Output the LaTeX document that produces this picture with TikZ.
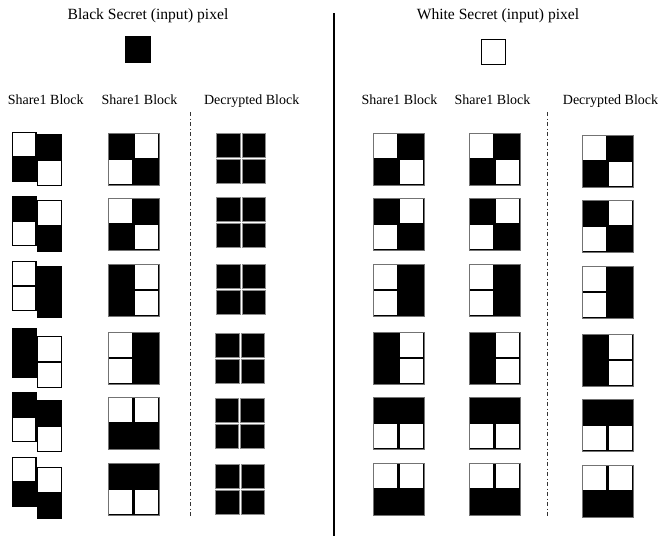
\documentclass[tikz,border=0pt]{standalone}
\usepackage{fontspec}
\setmainfont{Liberation Serif}
\begin{document}
\begin{tikzpicture}[x=1pt,y=-1pt,
  toptext/.style={font=\fontsize{15.6}{18}\selectfont, anchor=base, inner sep=0pt},
  headtext/.style={font=\fontsize{14}{17}\selectfont, anchor=base, inner sep=0pt},
  divider/.style={line width=1.3pt},
  dashdiv/.style={line width=0.9pt, black!80, dash pattern=on 4pt off 2.5pt on 1pt off 2.5pt}]
\useasboundingbox (0,0) rectangle (658,538);
% cells: x y w h
\newcommand{\cb}[4]{\fill[black] (#1,#2) rectangle ++(#3,#4);}
\newcommand{\cw}[4]{\fill[black] (#1,#2) rectangle ++(#3,#4);
  \fill[white] (#1+1.4,#2+1.4) rectangle ++(#3-2.8,#4-2.8);}
% 2x2 block: x y TL TR BL BR
\newcommand{\blk}[6]{%
  \csname c#3\endcsname{#1}{#2}{25.5}{26}%
  \csname c#4\endcsname{#1+25.5}{#2}{25.5}{26}%
  \csname c#5\endcsname{#1}{#2+26}{25.5}{26}%
  \csname c#6\endcsname{#1+25.5}{#2+26}{25.5}{26}%
  \draw[black!55, line width=0.5pt] (#1,#2) rectangle ++(51,52);}
% shifted pair: left column top/bottom at y1, right column top/bottom at y2
\newcommand{\shf}[6]{%
  \csname c#2\endcsname{11.5}{#1}{25}{25}%
  \csname c#3\endcsname{11.5}{#1+25}{25}{25}%
  \csname c#5\endcsname{36.5}{#4}{25.5}{26}%
  \csname c#6\endcsname{36.5}{#4+26}{25.5}{26}}
% decrypted all-black block
\newcommand{\dec}[2]{%
  \foreach \dx in {0,25.5}{\foreach \dy in {0,26}{
    \fill[black, draw=black!45, line width=0.6pt] (#1+\dx,#2+\dy) rectangle ++(23.5,24);}}}

% titles
\node[toptext] (tb) at (148,19.5) {Black Secret (input) pixel};
\node[toptext] (tw) at (498,19.5) {White Secret (input) pixel};
\fill[black] (125,36) rectangle (151,63);
\draw[line width=1.3pt] (481.5,39.5) rectangle (505.5,64.5);

% headers
\node[headtext] (h1) at (45.7,104) {Share1 Block};
\node[headtext] (h2) at (139.5,104) {Share1 Block};
\node[headtext] (h3) at (251.7,104) {Decrypted Block};
\node[headtext] (h4) at (399.5,104) {Share1 Block};
\node[headtext] (h5) at (492.5,104) {Share1 Block};
\node[headtext, anchor=base west] (h6) at (562.7,104) {Decrypted Block};

% dividers
\draw[divider] (334,13) -- (334,536);
\draw[dashdiv] (190,112) -- (190,518);
\draw[dashdiv] (547,112) -- (547,517);

% left: shifted share column
\shf{132}{w}{b}{134}{b}{w}
\shf{196}{b}{w}{200}{w}{b}
\shf{261}{w}{w}{266}{b}{b}
\shf{328}{b}{b}{336}{w}{w}
\shf{392}{b}{w}{400}{b}{w}
\shf{457}{w}{b}{467}{w}{b}

% left: share block column
\blk{108}{133}{b}{w}{w}{b}
\blk{108}{198}{w}{b}{b}{w}
\blk{108}{264}{b}{w}{b}{w}
\blk{108}{332}{w}{b}{w}{b}
\blk{108}{397}{w}{w}{b}{b}
\blk{108}{463}{b}{b}{w}{w}

% left: decrypted
\dec{216.5}{133}
\dec{216.5}{197.5}
\dec{216.5}{264}
\dec{215.5}{333}
\dec{215}{398}
\dec{215.5}{464}

% right: three columns
\foreach \xx/\yoff in {373/0,469/0,582/2}{
  \blk{\xx}{133+\yoff}{w}{b}{b}{w}
  \blk{\xx}{198+\yoff}{b}{w}{w}{b}
  \blk{\xx}{264+\yoff}{w}{b}{w}{b}
  \blk{\xx}{332+\yoff}{b}{w}{b}{w}
  \blk{\xx}{397+\yoff}{b}{b}{w}{w}
  \blk{\xx}{463+\yoff}{w}{w}{b}{b}
}
\end{tikzpicture}
\end{document}
